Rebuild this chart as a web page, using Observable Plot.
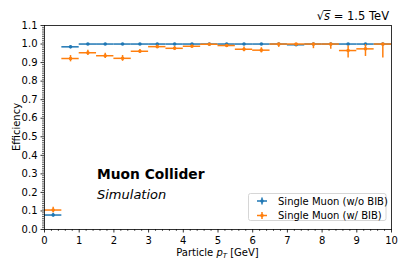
<!DOCTYPE html>
<html><head><meta charset="utf-8">
<script src="https://cdn.jsdelivr.net/npm/d3@7"></script>
<script src="https://cdn.jsdelivr.net/npm/@observablehq/plot@0.6"></script>
<style>
html,body{margin:0;padding:0;background:#fff;}
#chart{position:relative;width:407px;height:271px;}
</style></head><body><div id="chart"></div>
<script>
// ---- data ----
const ptCenters = [0.25,0.75,1.25,1.75,2.25,2.75,3.25,3.75,4.25,4.75,5.25,5.75,6.25,6.75,7.25,7.75,8.25,8.75,9.25,9.75];
const ptHalfWidth = [0.25,0.25,0.25,0.25,0.25,0.25,0.25,0.25,0.25,0.25,0.25,0.25,0.25,0.25,0.25,0.25,0.25,0.25,0.25,0.25];

const effNoBIB     = [0.078,0.985,1.0,1.0,1.0,1.0,1.0,1.0,1.0,1.0,1.0,1.0,1.0,1.0,0.996,1.0,1.0,1.0,1.0,1.0];
const errNoBIBLow  = [0.010,0.004,0.002,0.002,0.002,0.002,0.002,0.002,0.002,0.002,0.002,0.002,0.002,0.002,0.004,0.002,0.002,0.002,0.002,0.002];
const errNoBIBHigh = [0.010,0.004,0.000,0.000,0.000,0.000,0.000,0.000,0.000,0.000,0.000,0.000,0.000,0.000,0.003,0.000,0.000,0.000,0.000,0.000];

const effBIB     = [0.105,0.922,0.953,0.937,0.923,0.961,0.986,0.977,0.988,0.999,0.992,0.972,0.967,1.0,1.0,1.0,1.0,0.965,0.974,1.0];
const errBIBLow  = [0.015,0.018,0.015,0.015,0.016,0.011,0.010,0.012,0.009,0.006,0.010,0.014,0.015,0.018,0.012,0.025,0.028,0.040,0.041,0.075];
const errBIBHigh = [0.015,0.016,0.014,0.014,0.015,0.010,0.008,0.010,0.007,0.001,0.006,0.012,0.013,0.000,0.000,0.000,0.000,0.025,0.023,0.000];

const seriesNames = ["Single Muon (w/o BIB)", "Single Muon (w/ BIB)"];
const seriesColors = ["#1f77b4", "#ff7f0e"];

const xMajorTicks = [0,1,2,3,4,5,6,7,8,9,10];
const xMinorTicks = d3.range(0, 50).map(i => i / 5).filter(v => !Number.isInteger(v));
const yMajorTicks = [0.0,0.1,0.2,0.3,0.4,0.5,0.6,0.7,0.8,0.9,1.0,1.1];
const yMinorTicks = d3.range(0, 111).map(i => i / 100).filter((v, i) => i % 10 !== 0);

const xLabel = ["Particle ", "p", "T", " [GeV]"];
const yLabel = "Efficiency";
const energyLabel = ["√", "s", " = 1.5 TeV"];
const expLabel = "Muon Collider";
const simLabel = "Simulation";

// ---- tables ----
function build(eff, lo, hi) {
  return ptCenters.map((pt, i) => ({
    pt, xlo: pt - ptHalfWidth[i], xhi: pt + ptHalfWidth[i],
    eff: eff[i], ylo: eff[i] - lo[i], yhi: eff[i] + hi[i]
  }));
}
const noBIB = build(effNoBIB, errNoBIBLow, errNoBIBHigh);
const withBIB = build(effBIB, errBIBLow, errBIBHigh);

const W = 407, H = 271, mL = 44, mR = 16, mT = 25, mB = 42;
const FONT = "DejaVu Sans";

function errMarks(data, color) {
  return [
    Plot.ruleY(data, {y: "eff", x1: "xlo", x2: "xhi", stroke: color, strokeWidth: 1.5}),
    Plot.ruleX(data.filter(d => d.yhi > d.ylo), {x: "pt", y1: "ylo", y2: "yhi", stroke: color, strokeWidth: 1.5}),
    Plot.dot(data, {x: "pt", y: "eff", r: 1.8, fill: color, stroke: null})
  ];
}

const plot = Plot.plot({
  width: W, height: H,
  marginLeft: mL, marginRight: mR, marginTop: mT, marginBottom: mB,
  style: {fontFamily: FONT, fontSize: "10px", background: "white", color: "black"},
  x: {domain: [0, 10]},
  y: {domain: [0, 1.1]},
  marks: [
    Plot.axisX({ticks: xMinorTicks, tickSize: 2, tickFormat: () => "", strokeWidth: 0.6, label: null}),
    Plot.axisX({ticks: xMajorTicks, tickSize: 3.5, tickPadding: 3.5, tickFormat: d3.format("d"), strokeWidth: 0.8, label: null, fontSize: 10}),
    Plot.axisY({ticks: yMinorTicks, tickSize: 2, tickFormat: () => "", strokeWidth: 0.6, label: null}),
    Plot.axisY({ticks: yMajorTicks, tickSize: 3.5, tickPadding: 3.5, tickFormat: d3.format(".1f"), strokeWidth: 0.8, label: null, fontSize: 10}),
    ...errMarks(noBIB, seriesColors[0]),
    ...errMarks(withBIB, seriesColors[1]),
    Plot.frame({stroke: "black", strokeWidth: 0.8})
  ]
});
document.getElementById("chart").appendChild(plot);

// ---- annotations ----
const svg = d3.select(plot);
const g = svg.append("g").attr("font-family", FONT).attr("fill", "black").attr("text-anchor", "start");

// y label
g.append("text").attr("transform", `translate(19.5,${(mT + H - mB) / 2}) rotate(-90)`)
  .attr("text-anchor", "middle").attr("font-size", 10).text(yLabel);

// x label
const xl = g.append("text").attr("x", (mL + W - mR) / 2).attr("y", 256)
  .attr("text-anchor", "middle").attr("font-size", 10);
xl.append("tspan").text(xLabel[0]);
xl.append("tspan").attr("font-style", "italic").text(xLabel[1]);
xl.append("tspan").attr("font-style", "italic").attr("font-size", 7).attr("dy", 2).text(xLabel[2]);
xl.append("tspan").attr("dy", -2).text(xLabel[3]);

// energy
const et = g.append("text").attr("x", 389).attr("y", 19.5).attr("text-anchor", "end").attr("font-size", 11.5);
et.append("tspan").text(energyLabel[0]);
et.append("tspan").attr("font-style", "italic").text(energyLabel[1]);
et.append("tspan").text(energyLabel[2]);
const r0 = et.node().getExtentOfChar(0), r1 = et.node().getExtentOfChar(1);
g.append("line").attr("x1", r0.x + r0.width - 0.5).attr("x2", r1.x + r1.width + 0.5)
  .attr("y1", 10.5).attr("y2", 10.5).attr("stroke", "black").attr("stroke-width", 0.9);

// experiment labels
g.append("text").attr("x", 97).attr("y", 179).attr("text-anchor", "start").attr("font-size", 13.8).attr("font-weight", "bold").text(expLabel);
g.append("text").attr("x", 97).attr("y", 198.5).attr("text-anchor", "start").attr("font-size", 13).attr("font-style", "italic").text(simLabel);

// legend
const lg = g.append("g");
lg.append("rect").attr("x", 248.5).attr("y", 193.5).attr("width", 137.5).attr("height", 27)
  .attr("rx", 2).attr("fill", "white").attr("fill-opacity", 0.8).attr("stroke", "#cccccc").attr("stroke-width", 0.8);
seriesNames.forEach((name, i) => {
  const cy = 201 + i * 14.5, cx = 262;
  lg.append("line").attr("x1", cx - 5).attr("x2", cx + 5).attr("y1", cy).attr("y2", cy).attr("stroke", seriesColors[i]).attr("stroke-width", 1.5);
  lg.append("line").attr("x1", cx).attr("x2", cx).attr("y1", cy - 3.5).attr("y2", cy + 3.5).attr("stroke", seriesColors[i]).attr("stroke-width", 1.5);
  lg.append("circle").attr("cx", cx).attr("cy", cy).attr("r", 1.8).attr("fill", seriesColors[i]);
  lg.append("text").attr("x", 278).attr("y", cy + 3.6).attr("text-anchor", "start").attr("font-size", 10).text(name);
});
</script></body></html>
